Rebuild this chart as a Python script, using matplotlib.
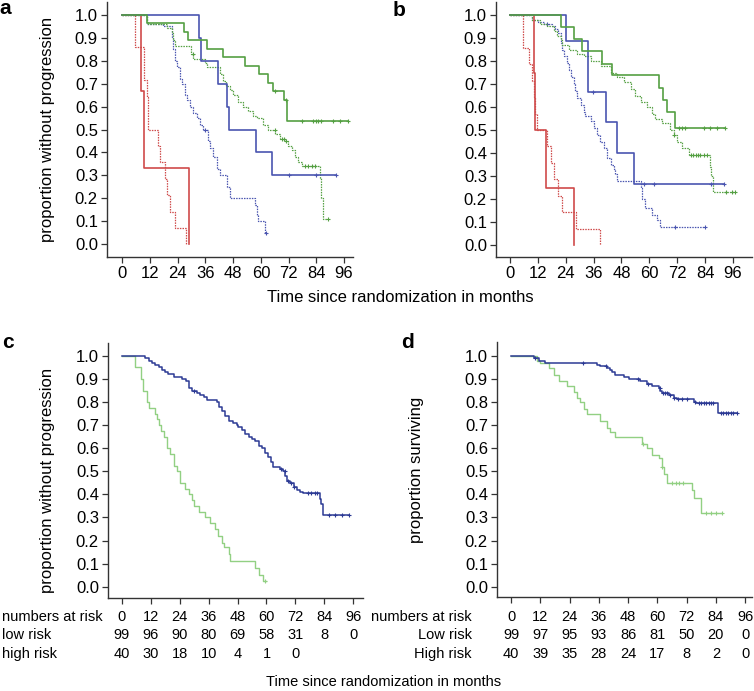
import numpy as np
import matplotlib
matplotlib.use("Agg")
import matplotlib.pyplot as plt
from matplotlib.transforms import blended_transform_factory

plt.rcParams['font.family'] = ['Liberation Sans', 'DejaVu Sans']

W, H = 754, 691

# ---------------- data: (time in months, proportion) step points ----------------
# panel a
a_red_solid_t = [0, 8, 9.5, 29]
a_red_solid_s = [1, 0.667, 0.333, 0]
a_red_dot_t = [0, 5.5, 9.5, 10.5, 11.2, 15.6, 16.3, 18.5, 19.2, 20.6, 22.8, 27.4]
a_red_dot_s = [1, 0.857, 0.714, 0.643, 0.5, 0.429, 0.357, 0.286, 0.214, 0.143, 0.071, 0]
a_blue_solid_t = [0, 33, 34, 41.5, 45.5, 46.3, 58, 65, 92.4]
a_blue_solid_s = [1, 0.9, 0.8, 0.7, 0.6, 0.5, 0.4, 0.3, 0.3]
a_blue_solid_c = [72, 84, 92.4]
a_blue_dot_t = [0, 10.5, 17.7, 21.4, 22.1, 22.8, 23.6, 25, 25.7, 27, 27.8, 29.3, 30.7,
                32.2, 33.6, 35, 37.2, 37.9, 39.4, 40.8, 42.3, 45.2, 46.6, 57.4, 58.1,
                58.9, 59.6, 61.8, 62]
a_blue_dot_s = [1, 0.96, 0.95, 0.9, 0.85, 0.8, 0.77, 0.72, 0.7, 0.65, 0.63, 0.6, 0.57,
                0.55, 0.52, 0.5, 0.45, 0.42, 0.38, 0.33, 0.3, 0.25, 0.2, 0.17, 0.13,
                0.1, 0.1, 0.05, 0.05]
a_blue_dot_c = [36, 62]
a_green_solid_t = [0, 10.5, 26.5, 28.5, 36.5, 43.7, 53, 59, 63.2, 65.4, 70, 71.3, 97.8]
a_green_solid_s = [1, 0.963, 0.926, 0.889, 0.852, 0.815, 0.778, 0.741, 0.704, 0.667,
                   0.63, 0.537, 0.537]
a_green_solid_c = [66, 70.7, 77.6, 82.7, 83.8, 84.8, 85.9, 91.3, 94.2, 97.8]
a_green_dot_t = [0, 10.5, 11.2, 19.5, 21.4, 22.1, 22.8, 29.6, 30.7, 35.7, 36.5, 42.2,
                 43.6, 45.1, 46.6, 48, 50.2, 52.4, 54.5, 56.7, 58.1, 61, 63.2, 66.1,
                 68.3, 70.4, 71.9, 73.3, 74.7, 76.2, 77.6, 85.6, 85.9, 86.7, 87.3, 89.2]
a_green_dot_s = [1, 0.97, 0.96, 0.94, 0.92, 0.89, 0.864, 0.83, 0.806, 0.79, 0.77, 0.74,
                 0.71, 0.69, 0.67, 0.65, 0.62, 0.6, 0.58, 0.56, 0.55, 0.52, 0.5, 0.48,
                 0.46, 0.45, 0.43, 0.41, 0.38, 0.36, 0.34, 0.29, 0.2, 0.11, 0.11, 0.11]
a_green_dot_c = [30.5, 66, 69, 70, 71, 79, 80.5, 82, 83.5, 89]

# panel b
b_red_solid_t = [0, 10.3, 10.8, 15.3, 27.5]
b_red_solid_s = [1, 0.75, 0.5, 0.25, 0]
b_red_dot_t = [0, 5.5, 8.2, 9.6, 10.3, 10.8, 11.5, 16, 17.5, 18.9, 20.8, 22.5, 28.5, 38.7]
b_red_dot_s = [1, 0.857, 0.786, 0.714, 0.643, 0.571, 0.5, 0.429, 0.357, 0.286, 0.214,
               0.143, 0.071, 0]
b_blue_solid_t = [0, 23.9, 33.5, 41.5, 46.1, 53.6, 92]
b_blue_solid_s = [1, 0.889, 0.667, 0.533, 0.4, 0.267, 0.267]
b_blue_solid_c = [35.8, 57.6, 61.9, 86.7, 92]
b_blue_dot_t = [0, 9.6, 12, 14.5, 18, 19.5, 20.8, 21.8, 22.5, 23.2, 24.5, 25.5, 26.2,
                27.5, 28.2, 29, 30.5, 31.8, 32.5, 34.7, 36, 37.5, 38.9, 40.3, 41.8,
                43.3, 44.7, 45.3, 46.1, 56.2, 57, 58.3, 61.1, 63.3, 64.8, 84]
b_blue_dot_s = [1, 0.98, 0.97, 0.96, 0.95, 0.94, 0.92, 0.88, 0.85, 0.82, 0.79, 0.76,
                0.73, 0.7, 0.67, 0.64, 0.61, 0.58, 0.56, 0.54, 0.51, 0.48, 0.45, 0.42,
                0.38, 0.35, 0.33, 0.31, 0.28, 0.25, 0.2, 0.16, 0.13, 0.11, 0.08, 0.08]
b_blue_dot_c = [16, 71.2, 84]
b_green_solid_t = [0, 21.8, 27.5, 31, 39.7, 44, 64, 65.8, 67.6, 71.2, 92.7]
b_green_solid_s = [1, 0.947, 0.895, 0.842, 0.789, 0.737, 0.684, 0.632, 0.579, 0.51, 0.51]
b_green_solid_c = [72.6, 74, 75.5, 83.4, 86.2, 89.1, 92.7]
b_green_dot_t = [0, 9.6, 13, 16, 19, 20.3, 21.8, 22.5, 25.4, 29, 31.8, 34.7, 39, 43.3,
                 46, 49, 51.9, 54, 56.2, 59, 61.2, 62.6, 65.5, 69, 70.5, 71.9, 74, 77,
                 86.2, 86.7, 87.4, 97]
b_green_dot_s = [1, 0.98, 0.96, 0.95, 0.93, 0.91, 0.89, 0.87, 0.85, 0.83, 0.82, 0.8,
                 0.78, 0.75, 0.73, 0.71, 0.68, 0.65, 0.62, 0.6, 0.57, 0.55, 0.53, 0.5,
                 0.48, 0.45, 0.42, 0.39, 0.34, 0.3, 0.23, 0.23]
b_green_dot_c = [70.5, 78, 79, 80, 81, 82, 83.5, 85, 93, 95.5, 97]

# panel c (progression by risk group)
c_low_t = [0, 9.8, 11.2, 12.6, 13.9, 15.3, 16.7, 18.1, 19.3, 21.5, 25, 26.5, 27.7, 29,
           31.2, 32.5, 34, 35.3, 39.4, 40.2, 41.5, 42.9, 44.3, 46.3, 47.7, 48.4, 49.8,
           51.2, 52.6, 54, 55.3, 56.7, 58, 59.4, 60.8, 61.8, 62.9, 65.7, 67, 67.8, 68.4,
           69.8, 71.2, 72.6, 73.9, 75.3, 82, 82.5, 83.6, 94]
c_low_s = [1, 0.99, 0.98, 0.97, 0.96, 0.95, 0.94, 0.93, 0.92, 0.91, 0.9, 0.89, 0.86,
           0.85, 0.84, 0.83, 0.82, 0.81, 0.8, 0.78, 0.76, 0.74, 0.72, 0.71, 0.7, 0.69,
           0.68, 0.66, 0.65, 0.64, 0.63, 0.61, 0.6, 0.58, 0.56, 0.54, 0.52, 0.51, 0.5,
           0.48, 0.46, 0.45, 0.43, 0.42, 0.41, 0.405, 0.38, 0.36, 0.31, 0.31]
c_low_c = [30, 66, 67.5, 68.8, 70, 71.5, 77, 78.5, 80, 81, 86, 88.5, 91.5, 94]
c_high_t = [0, 5.7, 8, 9, 10.5, 11.2, 13.9, 14.6, 15.3, 16.3, 17.4, 18.8, 20, 21.5,
            22.9, 24.3, 26.3, 27.7, 29.1, 29.8, 31.9, 34.6, 36.5, 38.5, 40, 41.4, 42.2,
            44.5, 45, 55.3, 56.7, 58.5, 60]
c_high_s = [1, 0.95, 0.9, 0.85, 0.8, 0.775, 0.75, 0.725, 0.7, 0.675, 0.65, 0.6, 0.575,
            0.525, 0.5, 0.45, 0.425, 0.4, 0.375, 0.35, 0.325, 0.3, 0.275, 0.25, 0.22,
            0.19, 0.17, 0.14, 0.11, 0.08, 0.05, 0.025, 0.025]
c_high_c = [59.5]

# panel d (survival by risk group)
d_low_t = [0, 9.3, 11.3, 14, 35.2, 36.5, 39.3, 40.7, 41.4, 42.8, 46.2, 48.2, 52.9, 55.7,
           57.8, 60.5, 61.2, 61.9, 64.6, 66.7, 68, 74.9, 76, 84.7, 92.6]
d_low_s = [1, 0.99, 0.98, 0.97, 0.96, 0.955, 0.95, 0.94, 0.93, 0.92, 0.91, 0.9, 0.89,
           0.88, 0.87, 0.86, 0.85, 0.84, 0.83, 0.82, 0.815, 0.8, 0.795, 0.755, 0.755]
d_low_c = [10, 29.4, 39, 52, 56, 61, 62.5, 63, 64, 65, 67, 68.5, 70, 72, 75.5, 77, 78,
           79, 80, 81, 82, 83, 86, 87, 88, 89, 90, 91, 92.6]
d_high_t = [0, 10.7, 12, 15.4, 17.5, 19.5, 22.9, 25.7, 27, 28.4, 29.8, 31.1, 36.6, 39.3,
            40.7, 42.8, 53.5, 55.7, 57.8, 60.5, 61.9, 62.6, 63.9, 74.2, 75.1, 77.9, 86.5]
d_high_s = [1, 0.98, 0.97, 0.947, 0.918, 0.89, 0.87, 0.845, 0.82, 0.8, 0.77, 0.75, 0.72,
            0.69, 0.67, 0.647, 0.62, 0.6, 0.57, 0.556, 0.52, 0.49, 0.45, 0.42, 0.385,
            0.32, 0.32]
d_high_c = [54, 62, 66, 67.5, 69, 70.5, 80, 82, 84, 86.5]

# risk tables
risk_months = [0, 12, 24, 36, 48, 60, 72, 84, 96]
c_low_risk = [99, 96, 90, 80, 69, 58, 31, 8, 0]
c_high_risk = [40, 30, 18, 10, 4, 1, 0]
d_low_risk = [99, 97, 95, 93, 86, 81, 50, 20, 0]
d_high_risk = [40, 39, 35, 28, 24, 17, 8, 2, 0]

RED = '#cf4a4a'
BLUE = '#4a55b0'
GREEN = '#55a043'
NAVY = '#2c3a94'
LGREEN = '#92d083'
DOT = (0, (1.2, 0.9))


def fx(px):
    return px / W


def fy(py):
    return 1 - py / H


def make_ax(fig, l, r, t, b, xlim, ylim):
    ax = fig.add_axes([fx(l), fy(b), (r - l) / W, (b - t) / H])
    ax.set_xlim(*xlim)
    ax.set_ylim(*ylim)
    for s in ['top', 'right']:
        ax.spines[s].set_visible(False)
    for s in ['left', 'bottom']:
        ax.spines[s].set_linewidth(1.0)
        ax.spines[s].set_color('#333333')
    ax.set_yticks(np.arange(0, 1.01, 0.1))
    ax.set_yticklabels([f'{v:.1f}' for v in np.arange(0, 1.01, 0.1)])
    ax.set_xticks(risk_months)
    ax.tick_params(axis='both', labelsize=12, length=4, width=0.9, color='#333333',
                   pad=2.5)
    return ax


def km(ax, t, s, color, ls='-', lw=1.2, cens=None):
    ax.step(t, s, where='post', color=color, ls=ls, lw=lw)
    if cens:
        idx = np.searchsorted(t, cens, side='right') - 1
        ax.plot(cens, np.array(s)[idx], ls='none', marker='+', ms=3, mew=0.8,
                color=color)


fig = plt.figure(figsize=(W / 100, H / 100), dpi=100)

# panel a
ax = make_ax(fig, 107, 353, 2, 257, (-6.62, 99.87), (-0.055, 1.055))
km(ax, a_red_dot_t, a_red_dot_s, RED, DOT, 0.9)
km(ax, a_blue_dot_t, a_blue_dot_s, BLUE, DOT, 0.9, a_blue_dot_c)
km(ax, a_green_dot_t, a_green_dot_s, GREEN, DOT, 0.9, a_green_dot_c)
km(ax, a_red_solid_t, a_red_solid_s, RED)
km(ax, a_blue_solid_t, a_blue_solid_s, BLUE, cens=a_blue_solid_c)
km(ax, a_green_solid_t, a_green_solid_s, GREEN, cens=a_green_solid_c)
ax.set_ylabel('proportion without progression', fontsize=12)
ax.yaxis.set_label_coords((55 - 107) / 246, 0.5)

# panel b
ax = make_ax(fig, 496, 752, 2, 257, (-6.03, 104.2), (-0.052, 1.0565))
km(ax, b_red_dot_t, b_red_dot_s, RED, DOT, 0.9)
km(ax, b_blue_dot_t, b_blue_dot_s, BLUE, DOT, 0.9, b_blue_dot_c)
km(ax, b_green_dot_t, b_green_dot_s, GREEN, DOT, 0.9, b_green_dot_c)
km(ax, b_red_solid_t, b_red_solid_s, RED)
km(ax, b_blue_solid_t, b_blue_solid_s, BLUE, cens=b_blue_solid_c)
km(ax, b_green_solid_t, b_green_solid_s, GREEN, cens=b_green_solid_c)

fig.text(fx(400), fy(298), 'Time since randomization in months', fontsize=12,
         ha='center', va='center')

# panel c
ax = make_ax(fig, 108, 363, 343, 598, (-5.68, 100.0), (-0.049, 1.056))
km(ax, c_high_t, c_high_s, LGREEN, lw=1.0, cens=c_high_c)
km(ax, c_low_t, c_low_s, NAVY, lw=1.1, cens=c_low_c)
ax.set_ylabel('proportion without progression', fontsize=12)
ax.yaxis.set_label_coords((55 - 108) / 255, 0.46)
ax.set_xticklabels([])
tr = blended_transform_factory(ax.transData, fig.transFigure)
for row, py in [(risk_months, 617), (c_low_risk, 635), (c_high_risk, 654)]:
    for m, v in zip(risk_months, row):
        ax.text(m, fy(py), str(v), transform=tr, ha='center', va='center', fontsize=10.5)
for lab, py in [('numbers at risk', 617), ('low risk', 635), ('high risk', 654)]:
    fig.text(fx(2), fy(py), lab, ha='left', va='center', fontsize=10.5)

# panel d
ax = make_ax(fig, 497, 752, 342, 597, (-5.74, 98.8), (-0.045, 1.061))
km(ax, d_high_t, d_high_s, LGREEN, lw=1.0, cens=d_high_c)
km(ax, d_low_t, d_low_s, NAVY, lw=1.1, cens=d_low_c)
ax.set_ylabel('proportion surviving', fontsize=12)
ax.yaxis.set_label_coords((424 - 497) / 255, 0.5)
ax.set_xticklabels([])
tr = blended_transform_factory(ax.transData, fig.transFigure)
for row, py in [(risk_months, 617), (d_low_risk, 635), (d_high_risk, 654)]:
    for m, v in zip(risk_months, row):
        ax.text(m, fy(py), str(v), transform=tr, ha='center', va='center', fontsize=10.5)
for lab, py in [('numbers at risk', 617), ('Low risk', 635), ('High risk', 654)]:
    fig.text(fx(472), fy(py), lab, ha='right', va='center', fontsize=10.5)

fig.text(fx(384), fy(682), 'Time since randomization in months', fontsize=10.5,
         ha='center', va='center')

# panel letters
for lab, px, py in [('a', 5, 9), ('b', 399, 10), ('c', 8, 343), ('d', 407, 343)]:
    fig.text(fx(px), fy(py), lab, fontsize=15, fontweight='bold', ha='center',
             va='center')

fig.savefig('out.png', dpi=100)
